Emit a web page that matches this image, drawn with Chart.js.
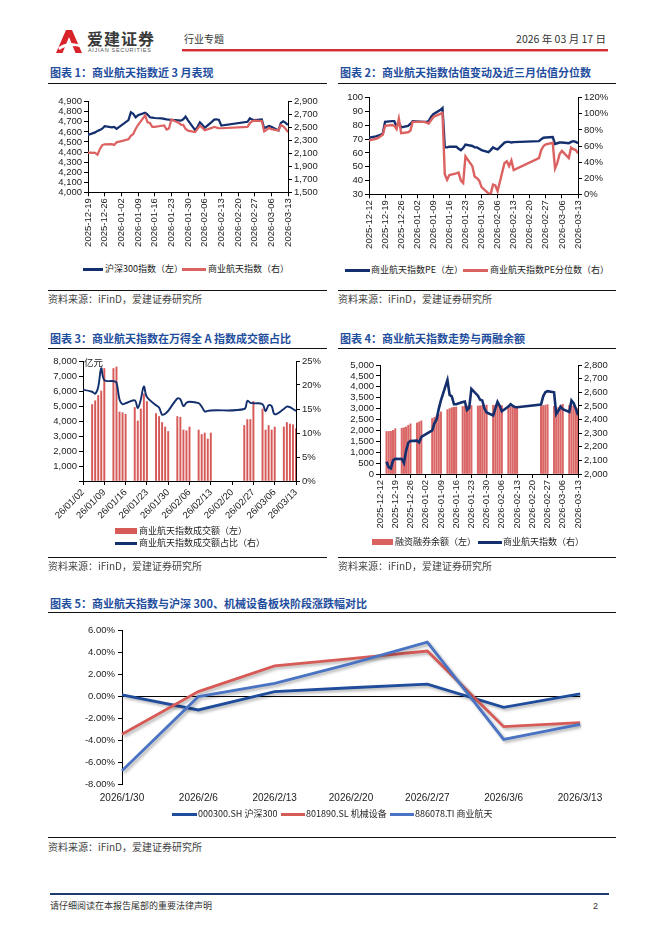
<!DOCTYPE html>
<html lang="zh-CN">
<head>
<meta charset="UTF-8">
<title>行业专题 - 商业航天</title>
<script src="https://cdn.jsdelivr.net/npm/chart.js@4.4.1/dist/chart.umd.min.js"></script>
<style>
    body { margin: 0; background: #fff; font-family: "Liberation Sans", "Noto Sans CJK SC", sans-serif; color: #333; }
    .page { position: relative; width: 662px; height: 936px; overflow: hidden; background: #fff; }
    .abs { position: absolute; white-space: nowrap; }
    .title { font-family: "Noto Sans CJK SC", sans-serif; font-weight: bold; font-size: 11px; line-height: 14px; color: #1F4E9E; }
    .rule { position: absolute; height: 1px; background: #111; }
    .src { font-family: "Noto Sans CJK SC", sans-serif; font-size: 10px; line-height: 12px; color: #444; }
    .lg { font-family: "Noto Sans CJK SC", sans-serif; font-size: 9px; line-height: 12px; color: #222; }
    .sw { position: absolute; }
    canvas { position: absolute; }
</style>
</head>
<body>
<div class="page">
    <!-- header -->
    <svg class="abs" style="left:56px;top:30px" width="26" height="23" viewBox="0 0 26 23">
        <path d="M10 0 H16 L26 23 H19.5 L13 7 L6.5 23 H0 Z" fill="#D8232A"/>
        <path d="M2 17.5 C8 12.5 17 12 25 15 L24 17 C17 15 9 15.5 3.5 20 Z" fill="#fff"/>
    </svg>
    <div class="abs" style="left:87px;top:29px;font-family:'Noto Sans CJK SC';font-weight:bold;font-size:16px;line-height:18px;color:#3a3a3a;letter-spacing:1px">爱建证券</div>
    <div class="abs" style="left:88px;top:47px;font-size:5.5px;line-height:6px;color:#555;letter-spacing:0.7px">AIJIAN SECURITIES</div>
    <div class="abs" style="left:184px;top:33px;font-family:'Noto Sans CJK SC';font-size:10px;line-height:12px;color:#333">行业专题</div>
    <div class="abs" style="right:56px;top:33px;font-family:'Noto Sans CJK SC';font-size:10.5px;line-height:12px;color:#333">2026 年 03 月 17 日</div>
    <div class="abs" style="left:182px;top:49px;width:426px;height:2px;background:#D42F36"></div>
    <div class="abs" style="left:182px;top:51px;width:426px;height:1px;background:#EFA3A6"></div>

    <!-- chart 1 -->
    <div class="abs title" style="left:50px;top:65px">图表 1：商业航天指数近 3 月表现</div>
    <div class="rule" style="left:48px;top:83px;width:279px"></div>
    <canvas id="c1" width="290" height="168" style="left:40px;top:88px"></canvas>
    <div class="sw" style="left:83px;top:268px;width:20px;height:3px;background:#132F6E"></div>
    <div class="abs lg" style="left:105px;top:263px">沪深300指数（左）</div>
    <div class="sw" style="left:182px;top:268px;width:24px;height:3px;background:#DC6161"></div>
    <div class="abs lg" style="left:208px;top:263px">商业航天指数（右）</div>
    <div class="rule" style="left:48px;top:290px;width:279px"></div>
    <div class="abs src" style="left:48px;top:293px">资料来源：iFinD，爱建证券研究所</div>

    <!-- chart 2 -->
    <div class="abs title" style="left:340px;top:65px">图表 2：商业航天指数估值变动及近三月估值分位数</div>
    <div class="rule" style="left:338px;top:83px;width:278px"></div>
    <canvas id="c2" width="290" height="170" style="left:330px;top:86px"></canvas>
    <div class="sw" style="left:345px;top:269px;width:25px;height:3px;background:#132F6E"></div>
    <div class="abs lg" style="left:371px;top:264px">商业航天指数PE（左）</div>
    <div class="sw" style="left:463px;top:269px;width:25px;height:3px;background:#DC6161"></div>
    <div class="abs lg" style="left:490px;top:264px">商业航天指数PE分位数（右）</div>
    <div class="rule" style="left:338px;top:290px;width:278px"></div>
    <div class="abs src" style="left:338px;top:293px">资料来源：iFinD，爱建证券研究所</div>

    <!-- chart 3 -->
    <div class="abs title" style="left:50px;top:331px">图表 3：商业航天指数在万得全 A 指数成交额占比</div>
    <div class="rule" style="left:48px;top:348px;width:279px"></div>
    <canvas id="c3" width="290" height="175" style="left:40px;top:350px"></canvas>
    <div class="abs" style="left:84px;top:357px;font-family:'Noto Sans CJK SC';font-size:9.5px;line-height:11px;color:#222">亿元</div>
    <div class="sw" style="left:115px;top:528px;width:22px;height:6px;background:#D65A58"></div>
    <div class="abs lg" style="left:139px;top:525px">商业航天指数成交额（左）</div>
    <div class="sw" style="left:115px;top:542px;width:22px;height:2.5px;background:#132F6E"></div>
    <div class="abs lg" style="left:139px;top:537px">商业航天指数成交额占比（右）</div>
    <div class="rule" style="left:48px;top:557px;width:279px"></div>
    <div class="abs src" style="left:48px;top:560px">资料来源：iFinD，爱建证券研究所</div>

    <!-- chart 4 -->
    <div class="abs title" style="left:340px;top:331px">图表 4：商业航天指数走势与两融余额</div>
    <div class="rule" style="left:338px;top:348px;width:278px"></div>
    <canvas id="c4" width="290" height="182" style="left:330px;top:352px"></canvas>
    <div class="sw" style="left:372px;top:539px;width:21px;height:6px;background:#D9605E"></div>
    <div class="abs lg" style="left:395px;top:536px">融资融券余额（左）</div>
    <div class="sw" style="left:478px;top:541px;width:24px;height:3px;background:#132F6E"></div>
    <div class="abs lg" style="left:503px;top:536px">商业航天指数（右）</div>
    <div class="rule" style="left:338px;top:557px;width:278px"></div>
    <div class="abs src" style="left:338px;top:560px">资料来源：iFinD，爱建证券研究所</div>

    <!-- chart 5 -->
    <div class="abs title" style="left:50px;top:596px">图表 5：商业航天指数与沪深 300、机械设备板块阶段涨跌幅对比</div>
    <div class="rule" style="left:48px;top:612px;width:568px"></div>
    <canvas id="c5" width="575" height="190" style="left:40px;top:620px"></canvas>
    <div class="sw" style="left:172px;top:813px;width:25px;height:2.5px;background:#1F4C9B"></div>
    <div class="abs lg" style="left:198px;top:808px">000300.SH 沪深300</div>
    <div class="sw" style="left:281px;top:813px;width:24px;height:2.5px;background:#D65B57"></div>
    <div class="abs lg" style="left:306px;top:808px">801890.SL 机械设备</div>
    <div class="sw" style="left:390px;top:813px;width:24px;height:2.5px;background:#4A73C3"></div>
    <div class="abs lg" style="left:415px;top:808px">886078.TI 商业航天</div>
    <div class="rule" style="left:48px;top:837px;width:568px"></div>
    <div class="abs src" style="left:48px;top:841px">资料来源：iFinD，爱建证券研究所</div>

    <!-- footer -->
    <div class="abs" style="left:50px;top:893px;width:559px;height:1.5px;background:#1F3A6E"></div>
    <div class="abs" style="left:50px;top:900px;font-family:'Noto Sans CJK SC';font-size:9px;line-height:12px;color:#333">请仔细阅读在本报告尾部的重要法律声明</div>
    <div class="abs" style="left:593px;top:900px;font-size:9px;line-height:12px;color:#333">2</div>
</div>

<script>
    // trading days shown in the daily charts
    const tradeDays = [
        '2025-12-12', '2025-12-15', '2025-12-16', '2025-12-17', '2025-12-18', '2025-12-19', '2025-12-22',
        '2025-12-23', '2025-12-24', '2025-12-25', '2025-12-26', '2025-12-29', '2025-12-30', '2025-12-31',
        '2026-01-05', '2026-01-06', '2026-01-07', '2026-01-08', '2026-01-09', '2026-01-12', '2026-01-13',
        '2026-01-14', '2026-01-15', '2026-01-16', '2026-01-19', '2026-01-20', '2026-01-21', '2026-01-22',
        '2026-01-23', '2026-01-26', '2026-01-27', '2026-01-28', '2026-01-29', '2026-01-30',
        '2026-02-02', '2026-02-03', '2026-02-04', '2026-02-05', '2026-02-06', '2026-02-09', '2026-02-10',
        '2026-02-11', '2026-02-12', '2026-02-13', '2026-02-24', '2026-02-25', '2026-02-26', '2026-02-27',
        '2026-03-02', '2026-03-03', '2026-03-04', '2026-03-05', '2026-03-06', '2026-03-09', '2026-03-10',
        '2026-03-11', '2026-03-12', '2026-03-13'
    ];

    // 沪深300指数
    const hs300Index = [
        null, null, null, null, null, 4570, 4595, 4610, 4620, 4632, 4657, 4645, 4650, 4630,
        4717, 4795, 4780, 4745, 4765, 4790, 4772, 4745, 4742, 4738,
        4735, 4730, 4725, 4722, 4720, 4715, 4712, 4725, 4752, 4715,
        4618, 4650, 4695, 4672, 4640, 4700, 4722, 4725, 4718, 4662,
        4700, 4735, 4722, 4718, 4725, 4635, 4648, 4660, 4650,
        4615, 4690, 4705, 4690, 4668
    ];

    // 商业航天指数
    const spaceIndex = [
        null, 2090, 2050, 2042, 2100, 2112, 2110, 2080, 2170, 2230, 2242, 2245, 2232, 2272,
        2320, 2372, 2400, 2478, 2540, 2690, 2580, 2570, 2512, 2512,
        2528, 2532, 2470, 2485, 2625, 2575, 2545, 2540, 2480, 2452,
        2430, 2480, 2530, 2500, 2460, 2495, 2512, 2500, 2492, 2490,
        2510, 2570, 2600, 2608, 2600, 2440, 2465, 2495, 2475,
        2455, 2540, 2520, 2480, 2432
    ];

    // 商业航天指数PE 与 PE分位数(%)
    const spacePE = [
        71, 72, 72.5, 73, 74, 82.5, 83, 83, 79, 82, 78.5, 79.5, 81, 83,
        82.5, 82.5, 83, 86, 88, 91, 92.5, 64, 64, 64.5,
        64.5, 63, 62, 63.5, 66, 65, 64, 64, 63, 62,
        60.5, 62, 64, 63, 62.5, 67.5, 68, 68, 67.5, 67.8,
        68.5, 70, 71, 71.2, 71.5, 66.5, 67, 67.5, 67.5,
        67, 68, 68.5, 68, 67
    ];
    const spacePEPct = [
        67, 69, 70, 72, 74, 85, 86, 85, 81, 94, 76, 77, 79, 90,
        90, 89, 88, 92, 96, 100, 101, 25, 18, 24,
        26, 27, 17, 14, 47, 35, 22, 20, 17, 9,
        1, 0.5, 12, 11, 4, 39, 41, 35, 42, 30,
        45, 55, 60, 62, 64, 32, 39, 50, 54,
        45, 58, 56, 55, 51
    ];

    // 成交额(亿元) 与 占万得全A成交额比例(%)
    const spaceTurnover = [
        null, null, null, null, null, null, null, null, null, null, null, null, null, null,
        5100, 5350, 5700, 6000, 7500, 7500, 7600, 4600, 4550, 4450,
        4900, 4000, 4800, 5800, 5300, 4500, 4300, 3900, 3600, 3300,
        4300, 4250, 3400, 3350, 3600, 3400, 3100, 3200, 2800, 3200,
        3700, 4100, 4100, 5300, 4800, 3400, 3700, 3400, 3600,
        3600, 3900, 3800, 3750, 3500
    ];
    const turnoverShare = [
        null, null, null, null, null, null, null, null, null, null, null, null, null, 19.3,
        18.6, 18.2, 19.6, 23.5, 21.0, 20.8, 20.5, 17.0, 16.0, 16.2,
        16.8, 15.2, 17.0, 19.7, 17.5, 15.8, 15.3, 13.8, 14.0, 14.6,
        17.2, 17.0, 15.6, 16.3, 16.5, 16.2, 15.5, 14.5, 14.6, 14.7,
        15.0, 16.7, 16.3, 16.2, 16.0, 14.5, 15.8, 15.6, 13.9,
        15.0, 15.5, 15.4, 15.0, 14.6
    ];

    // 融资融券余额
    const marginBalance = [
        null, 1950, 1950, 1960, 2000, 2080, 2100, 2120, 2160, 2230, 2300, 2340, 2390, 2440,
        2550, 2600, 2660, 2750, 2850, 2950, 3000, 3040, 3060, 3070,
        3100, 3110, 3120, 3130, 3140, 3120, 3130, 3140, 3150, 3160,
        3150, 3160, 3170, 3150, 3140, 3100, 3080, 3060, 3050, 3050,
        3100, 3140, 3160, 3180, 3100, 2950, 3050, 3150, 3200,
        3150, 3150, 3100, 3050, 3000
    ];

    // 阶段涨跌幅(%)
    const stageDates = ['2026/1/30', '2026/2/6', '2026/2/13', '2026/2/20', '2026/2/27', '2026/3/6', '2026/3/13'];
    const chgHs300 = [0.1, -1.27, 0.4, 0.75, 1.08, -1.03, 0.2];
    const chgMachine = [-3.48, 0.4, 2.73, 3.4, 4.09, -2.79, -2.42];
    const chgSpace = [-6.79, -0.06, 1.15, 2.95, 4.9, -3.94, -2.58];

    // tick labels
    const weekTicks1 = ['2025-12-19', '2025-12-26', '2026-01-02', '2026-01-09', '2026-01-16', '2026-01-23', '2026-01-30',
        '2026-02-06', '2026-02-13', '2026-02-20', '2026-02-27', '2026-03-06', '2026-03-13'];
    const weekTicks2 = ['2025-12-12'].concat(weekTicks1);
    const weekTicks3 = ['26/01/02', '26/01/09', '26/01/16', '26/01/23', '26/01/30', '26/02/06', '26/02/13',
        '26/02/20', '26/02/27', '26/03/06', '26/03/13'];
    const c1Left = [4000, 4100, 4200, 4300, 4400, 4500, 4600, 4700, 4800, 4900];
    const c1Right = [1500, 1700, 1900, 2100, 2300, 2500, 2700, 2900];
    const c2Left = [30, 40, 50, 60, 70, 80, 90, 100];
    const c2Right = [0, 20, 40, 60, 80, 100, 120];
    const c3Left = [0, 1000, 2000, 3000, 4000, 5000, 6000, 7000, 8000];
    const c3Right = [0, 5, 10, 15, 20, 25];
    const c4Left = [0, 500, 1000, 1500, 2000, 2500, 3000, 3500, 4000, 4500, 5000];
    const c4Right = [2000, 2100, 2200, 2300, 2400, 2500, 2600, 2700, 2800];
    const c5Ticks = [-8, -6, -4, -2, 0, 2, 4, 6];

    const NAVY = '#132F6E';
    const RED = '#DC6161';

    Chart.defaults.font.family = '"Liberation Sans", "Noto Sans CJK SC", sans-serif';
    Chart.defaults.font.size = 9.5;
    Chart.defaults.color = '#222';

    const DAY = 86400000;
    function dayNum(s) {
        const p = s.split('-').map(Number);
        return Date.UTC(p[0], p[1] - 1, p[2]) / DAY;
    }
    function toPoints(values, start) {
        const s0 = dayNum(start);
        const out = [];
        tradeDays.forEach((d, i) => {
            if (values[i] != null) out.push({ x: dayNum(d) - s0, y: values[i] });
        });
        return out;
    }
    const comma = v => v.toLocaleString('en-US');
    const pct = v => v + '%';

    function valueAxis(pos, arr, width, fmt) {
        return {
            position: pos, min: arr[0], max: arr[arr.length - 1],
            border: { color: '#000' },
            grid: { drawOnChartArea: false, color: '#000', tickLength: 4 },
            ticks: { padding: 2, autoSkip: false, callback: fmt },
            afterBuildTicks: s => { s.ticks = arr.map(v => ({ value: v })); },
            afterFit: s => { s.width = width; }
        };
    }
    function dateAxis(dates, labels, start, span, rot, height) {
        const s0 = dayNum(start);
        const vals = dates.map(d => dayNum(d) - s0);
        return {
            type: 'linear', min: 0, max: span, offset: false,
            border: { color: '#000' },
            grid: { drawOnChartArea: false, color: '#000', tickLength: 4, offset: false },
            ticks: { padding: 2, autoSkip: false, minRotation: rot, maxRotation: rot, callback: (v, i) => labels[i] },
            afterBuildTicks: s => { s.ticks = vals.map(v => ({ value: v })); },
            afterFit: s => { s.height = height; s.paddingLeft = 0; s.paddingRight = 0; }
        };
    }
    const base = {
        responsive: false,
        animation: false,
        plugins: { legend: { display: false }, tooltip: { enabled: false } },
        elements: { point: { radius: 0 }, line: { tension: 0 } }
    };

    // 图表1
    new Chart(document.getElementById('c1'), {
        type: 'line',
        data: {
            datasets: [
                { data: toPoints(hs300Index, '2025-12-19').filter(p => p.x >= 0), borderColor: NAVY, borderWidth: 2.2, yAxisID: 'y', order: 1 },
                { data: toPoints(spaceIndex, '2025-12-19').filter(p => p.x >= 0), borderColor: RED, borderWidth: 2.2, yAxisID: 'y1', order: 0 }
            ]
        },
        options: Object.assign({}, base, {
            layout: { padding: { top: 13.7, right: 0, bottom: 0, left: 0 } },
            scales: {
                x: dateAxis(weekTicks1, weekTicks1, '2025-12-19', 84, 90, 63.7),
                y: valueAxis('left', c1Left, 48, comma),
                y1: valueAxis('right', c1Right, 42, comma)
            }
        })
    });

    // 图表2
    new Chart(document.getElementById('c2'), {
        type: 'line',
        data: {
            datasets: [
                { data: toPoints(spacePE, '2025-12-12'), borderColor: NAVY, borderWidth: 2.4, yAxisID: 'y', order: 1 },
                { data: toPoints(spacePEPct, '2025-12-12'), borderColor: RED, borderWidth: 2.4, yAxisID: 'y1', order: 0 }
            ]
        },
        options: Object.assign({}, base, {
            layout: { padding: { top: 11.7, right: 0, bottom: 0, left: 0 } },
            scales: {
                x: dateAxis(weekTicks2, weekTicks2, '2025-12-12', 91, 90, 61.7),
                y: valueAxis('left', c2Left, 39, v => v),
                y1: valueAxis('right', c2Right, 42, pct)
            }
        })
    });

    // 图表3
    const c3Dates = weekTicks3.map(l => '20' + l.replace(/\//g, '-'));
    new Chart(document.getElementById('c3'), {
        type: 'bar',
        data: {
            datasets: [
                { type: 'bar', data: toPoints(spaceTurnover, '2026-01-02'), backgroundColor: '#D65A58', barThickness: 1.3, yAxisID: 'y', order: 1 },
                { type: 'line', data: toPoints(turnoverShare, '2026-01-02'), borderColor: NAVY, borderWidth: 1.9, tension: 0.35, pointRadius: 0, yAxisID: 'y1', order: 0 }
            ]
        },
        options: Object.assign({}, base, {
            layout: { padding: { top: 11, right: 0, bottom: 0, left: 0 } },
            scales: {
                x: dateAxis(c3Dates, weekTicks3, '2026-01-02', 70, 45, 44),
                y: valueAxis('left', c3Left, 43, v => v === 0 ? '' : comma(v)),
                y1: valueAxis('right', c3Right, 34, pct)
            }
        })
    });

    // 图表4
    new Chart(document.getElementById('c4'), {
        type: 'bar',
        data: {
            datasets: [
                { type: 'bar', data: toPoints(marginBalance, '2025-12-12'), backgroundColor: '#DA6666', barThickness: 1.4, yAxisID: 'y', order: 1 },
                { type: 'line', data: toPoints(spaceIndex, '2025-12-12'), borderColor: NAVY, borderWidth: 2.6, pointRadius: 0, yAxisID: 'y1', order: 0 }
            ]
        },
        options: Object.assign({}, base, {
            layout: { padding: { top: 13, right: 0, bottom: 0, left: 0 } },
            scales: {
                x: dateAxis(weekTicks2, weekTicks2, '2025-12-12', 91, 90, 60),
                y: valueAxis('left', c4Left, 50, comma),
                y1: valueAxis('right', c4Right, 42, comma)
            }
        })
    });

    // 图表5
    const lineShadow = {
        id: 'lineShadow',
        beforeDatasetsDraw(chart) {
            const c = chart.ctx;
            c.save();
            c.shadowColor = 'rgba(0,0,0,0.3)';
            c.shadowBlur = 3;
            c.shadowOffsetX = 2;
            c.shadowOffsetY = 2;
        },
        afterDatasetsDraw(chart) { chart.ctx.restore(); }
    };
    new Chart(document.getElementById('c5'), {
        type: 'line',
        data: {
            labels: stageDates,
            datasets: [
                { data: chgHs300, borderColor: '#1F4C9B', borderWidth: 2.8, order: 2 },
                { data: chgMachine, borderColor: '#D65B57', borderWidth: 2.8, order: 1 },
                { data: chgSpace, borderColor: '#4A73C3', borderWidth: 2.8, order: 0 }
            ]
        },
        options: Object.assign({}, base, {
            layout: { padding: { top: 10, right: 35, bottom: 0, left: 0 } },
            scales: {
                x: {
                    offset: false,
                    grid: { display: false },
                    border: { display: false },
                    ticks: { padding: 0, font: { size: 10 }, maxRotation: 0, autoSkip: false },
                    afterFit: s => { s.height = 26; s.paddingLeft = 0; s.paddingRight = 0; }
                },
                y: {
                    min: -8, max: 6,
                    border: { color: '#000' },
                    grid: { color: c => c.tick && c.tick.value === 0 ? '#000' : 'rgba(0,0,0,0)', tickColor: '#000', tickLength: 4 },
                    ticks: { padding: 3, autoSkip: false, callback: v => v.toFixed(2) + '%' },
                    afterBuildTicks: s => { s.ticks = c5Ticks.map(v => ({ value: v })); },
                    afterFit: s => { s.width = 82; }
                }
            }
        }),
        plugins: [lineShadow]
    });
</script>
</body>
</html>
